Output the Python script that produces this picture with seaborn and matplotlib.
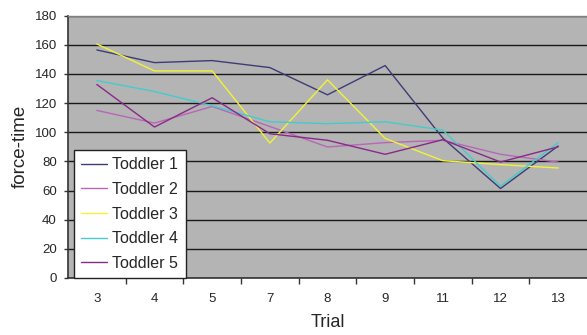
import matplotlib
matplotlib.use("Agg")
import matplotlib.pyplot as plt
import seaborn as sns
import pandas as pd
import numpy as np
from matplotlib.ticker import FixedLocator

trials = ["3", "4", "5", "7", "8", "9", "11", "12", "13"]
toddler1 = [156.5, 147.8, 149.2, 144.4, 125.7, 145.8, 96.0, 61.4, 90.6]
toddler2 = [115.0, 106.3, 117.7, 104.0, 89.9, 92.9, 94.5, 84.9, 79.5]
toddler3 = [160.6, 142.1, 142.1, 92.6, 136.0, 95.8, 80.5, 77.8, 75.5]
toddler4 = [135.5, 128.0, 118.2, 107.2, 105.9, 107.2, 101.5, 63.0, 92.9]
toddler5 = [132.8, 103.6, 123.7, 99.0, 94.5, 84.9, 94.9, 79.6, 90.0]
series_names = ["Toddler 1", "Toddler 2", "Toddler 3", "Toddler 4", "Toddler 5"]
colors = ["#3c3c78", "#b866b8", "#f2f238", "#44cccc", "#882a88"]

rows = []
for name, vals in zip(series_names, [toddler1, toddler2, toddler3, toddler4, toddler5]):
    for i, (t, v) in enumerate(zip(trials, vals)):
        rows.append({"pos": i, "Trial": t, "value": v, "series": name})
df = pd.DataFrame(rows)

sns.set_theme(style="white")
plt.rcParams['font.family'] = ['Liberation Sans', 'DejaVu Sans']

fig = plt.figure(figsize=(5.87, 3.35), dpi=100)
ax = fig.add_axes([68/587, 57/335, 1 - 68/587, (278 - 15.7)/335])
ax.set_facecolor("#b4b4b4")

sns.lineplot(data=df, x="pos", y="value", hue="series", palette=colors,
             hue_order=series_names, ax=ax, linewidth=1.0, legend=True)

ax.set_xlim(-0.5, len(trials) - 0.5)
ax.set_ylim(0, 180)
ax.set_yticks(np.arange(0, 181, 20))
ax.set_xticks(range(len(trials)))
ax.set_xticklabels(trials, fontsize=9.5)
ax.xaxis.set_minor_locator(FixedLocator(np.arange(0.5, len(trials) - 0.5, 1)))
ax.tick_params(axis="x", which="major", length=0, pad=11)
ax.tick_params(axis="x", which="minor", length=4, width=1, color="#333333", direction="out", bottom=True)
ax.tick_params(axis="y", which="major", length=3, width=1, color="#333333", direction="out", left=True, labelsize=9.5, pad=5)
ax.yaxis.grid(True, color="#1a1a1a", linewidth=1.0)
ax.set_axisbelow(True)

for s in ["left", "bottom"]:
    ax.spines[s].set_visible(True)
    ax.spines[s].set_color("#333333")
    ax.spines[s].set_linewidth(1.2)
ax.spines["top"].set_visible(True)
ax.spines["top"].set_color("#808080")
ax.spines["top"].set_linewidth(1.0)
ax.spines["right"].set_visible(False)

ax.set_xlabel("Trial", fontsize=13, labelpad=6)
ax.set_ylabel("force-time", fontsize=13.5, labelpad=4)

leg = ax.legend(loc="lower left", bbox_to_anchor=(6/519, 0.0), frameon=True,
                fontsize=11.5, handlelength=1.6, borderaxespad=0.0,
                labelspacing=0.6, fancybox=False, borderpad=0.45, handletextpad=0.35)
leg.get_frame().set_facecolor("white")
leg.get_frame().set_edgecolor("#222222")
leg.get_frame().set_linewidth(1.0)
leg.get_frame().set_alpha(1.0)

fig.savefig("out.png", dpi=100)
